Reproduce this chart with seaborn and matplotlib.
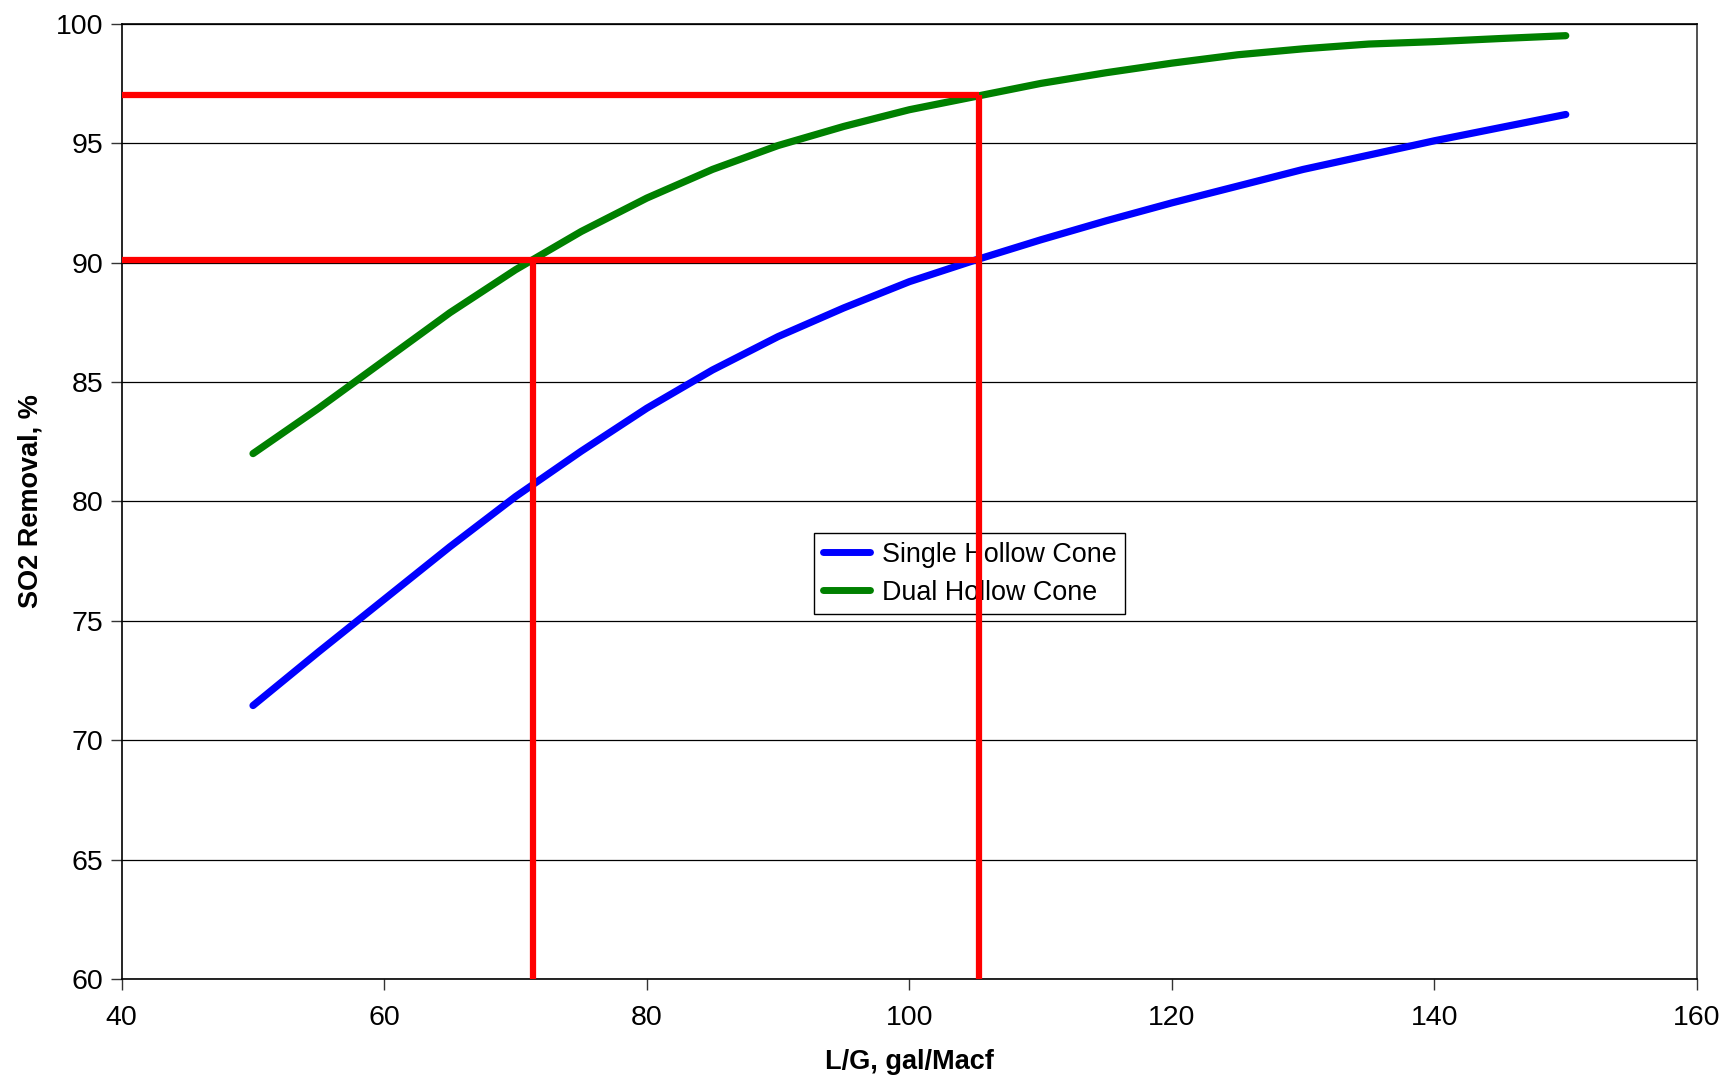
import matplotlib
matplotlib.use("Agg")
import matplotlib.pyplot as plt
import seaborn as sns
import pandas as pd

lg = [50, 55, 60, 65, 70, 75, 80, 85, 90, 95, 100, 105, 110, 115, 120, 125, 130, 135, 140, 145, 150]
single = [71.45, 73.7, 75.9, 78.1, 80.2, 82.1, 83.9, 85.5, 86.9, 88.1, 89.2, 90.1, 90.95, 91.75,
          92.5, 93.2, 93.9, 94.5, 95.1, 95.65, 96.2]
dual = [82.0, 83.9, 85.9, 87.9, 89.7, 91.3, 92.7, 93.9, 94.9, 95.7, 96.4, 96.95, 97.5, 97.95,
        98.35, 98.7, 98.95, 99.15, 99.25, 99.38, 99.5]
series_names = ["Single Hollow Cone", "Dual Hollow Cone"]
ref_x = [71.35, 105.3]
ref_y = [90.1, 97.0]

sns.set_theme(style="white")
plt.rcParams['font.family'] = ['Liberation Sans', 'DejaVu Sans']
plt.rcParams['text.color'] = 'black'
plt.rcParams['axes.labelcolor'] = 'black'
plt.rcParams['xtick.color'] = 'black'
plt.rcParams['ytick.color'] = 'black'

df = pd.DataFrame({
    "x": lg + lg,
    "y": single + dual,
    "s": [series_names[0]] * len(lg) + [series_names[1]] * len(lg),
})

fig = plt.figure(figsize=(17.22, 10.79), dpi=100)
ax = fig.add_axes([0.0707, 0.0927, 0.9148, 0.8853])

ax.set_xlim(40, 160)
ax.set_ylim(60, 100)
ax.set_yticks(range(60, 101, 5))
ax.set_xticks(range(40, 161, 20))
ax.grid(axis='y', color='black', linewidth=0.9)
ax.set_axisbelow(True)

# red reference lines
ax.plot([40, ref_x[1]], [ref_y[1], ref_y[1]], color='#ff0000', lw=4.5, solid_capstyle='butt', zorder=4)
ax.plot([40, ref_x[1]], [ref_y[0], ref_y[0]], color='#ff0000', lw=4.5, solid_capstyle='butt', zorder=4)
ax.plot([ref_x[0], ref_x[0]], [60, ref_y[0]], color='#ff0000', lw=4.5, solid_capstyle='butt', zorder=4)
ax.plot([ref_x[1], ref_x[1]], [60, ref_y[1]], color='#ff0000', lw=4.5, solid_capstyle='butt', zorder=4)

sns.lineplot(data=df, x="x", y="y", hue="s", palette=["#0000ff", "#008000"], lw=5.2,
             ax=ax, legend=True, zorder=3)

for s in ax.spines.values():
    s.set_color('#333333')
    s.set_linewidth(1.2)
ax.spines['left'].set_color('black')
ax.spines['bottom'].set_color('black')
ax.spines['top'].set_color('black')

ax.tick_params(axis='both', direction='out', length=8, width=1, color='#333333',
               labelsize=20.5, pad=5, left=True, bottom=True, labelcolor='black')
ax.tick_params(axis='x', pad=11)
ax.set_xlabel("L/G, gal/Macf", fontsize=19.5, fontweight='bold', labelpad=13, color='black')
ax.set_ylabel("SO2 Removal, %", fontsize=19.5, fontweight='bold', labelpad=9, color='black')

handles, labels = ax.get_legend_handles_labels()
leg = ax.legend(handles, labels, loc='upper left', bbox_to_anchor=(0.4395, 0.467), fontsize=19.4,
                frameon=True, fancybox=False, edgecolor='black', framealpha=1,
                handlelength=1.75, handletextpad=0.45, borderpad=0.32, labelspacing=0.45,
                borderaxespad=0)
leg.get_frame().set_linewidth(1)
leg.set_zorder(3.5)
for l in leg.get_lines():
    l.set_linewidth(5)
for t in leg.get_texts():
    t.set_color('black')

fig.savefig("out.png", dpi=100)
